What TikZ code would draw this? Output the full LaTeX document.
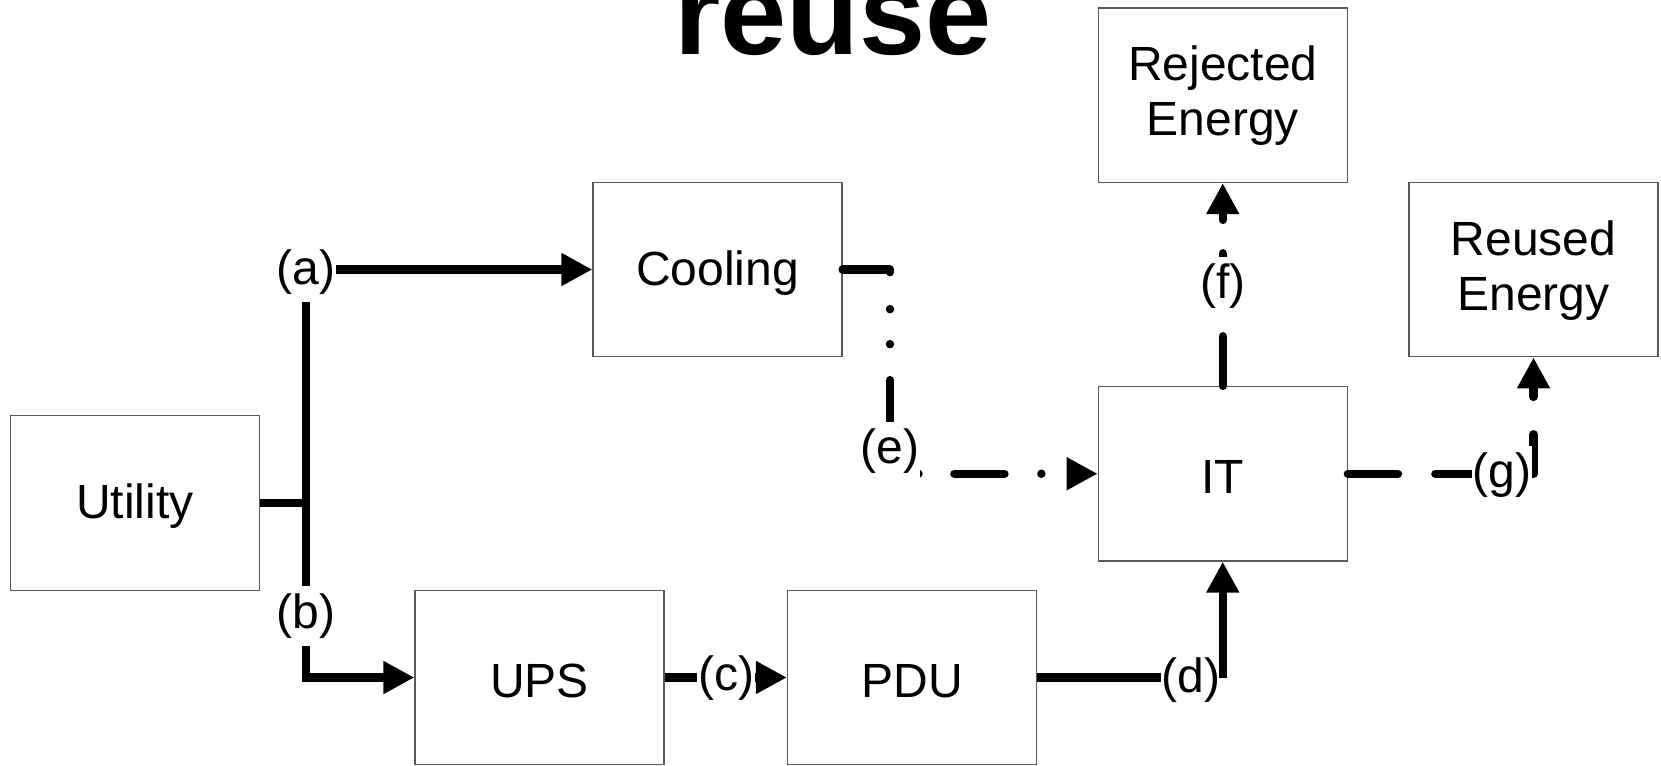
\documentclass[tikz,border=0pt]{standalone}
\usepackage{fontspec}
\setmainfont{Liberation Sans}
\usetikzlibrary{arrows.meta}
\newcommand\dn[1]{\raisebox{-3.5pt}[\height][\depth]{#1}}
\newcommand\twoline[2]{\raisebox{-2pt}[\height][\depth]{\setlength{\tabcolsep}{0pt}\renewcommand{\arraystretch}{1}\begin{tabular}{c}#1\\#2\end{tabular}}}
\tikzset{
  box/.style={draw=black!65, line width=1.3pt, minimum width=249pt, minimum height=174.5pt, inner sep=0pt, align=center, font=\fontsize{48}{55}\selectfont},
  lbl/.style={inner xsep=0.5pt, inner ysep=7pt, font=\fontsize{48}{55}\selectfont},
  lblw/.style={lbl, fill=white},
  conn/.style={line width=8.5pt},
  headarrow/.style={-{Triangle[length=31pt,width=31pt]}},
  ddot/.style={conn, line cap=round, line join=round, dash pattern=on 50pt off 37pt on 0pt off 35pt on 0pt off 36pt},
  dshf/.style={conn, line cap=round, line join=round, dash pattern=on 49.5pt off 33.5pt},
  dshg/.style={conn, line cap=round, line join=round, dash pattern=on 50pt off 37.5pt},
}
\begin{document}
\begin{tikzpicture}[x=1pt,y=-1pt]
\useasboundingbox (0,0) rectangle (1661,765);
\node[box] (util) at (135,503) {\dn{Utility}};
\node[box] (cool) at (717.5,269.5) {\dn{Cooling}};
\node[box] (ups) at (539.5,677.5) {\dn{UPS}};
\node[box] (pdu) at (912,677.5) {\dn{PDU}};
\node[box] (it) at (1222.75,473.75) {\dn{IT}};
\node[box] (rej) at (1222.75,95.25) {\twoline{Rejected}{Energy}};
\node[box] (reu) at (1533.5,269.5) {\twoline{Reused}{Energy}};
\node[anchor=base, font=\fontsize{119}{130}\selectfont\bfseries, inner sep=0pt] (title) at (833,55) {reuse};

\node[lbl] (a) at (306,272.5) {(a)};
\node[lbl] (b) at (306,616) {(b)};
\node[lbl] (c) at (726,678.5) {(c)};
\node[lbl] (d) at (1191,680) {(d)};
\coordinate (J) at (306,503);
\coordinate (dc) at (it.south |- pdu.east);
\coordinate (ec) at (890,473.75);

\draw[conn] (util.east) -- (J);
\draw[conn] (J) -- (a.south);
\draw[conn,headarrow] (a.east |- cool.west) -- (cool.west);
\draw[conn] (J) -- (b.north);
\draw[conn,headarrow] (b.south) |- (ups.west);
\draw[conn] (ups.east) -- (c.west |- ups.east);
\draw[conn,headarrow] (c.east |- pdu.west) -- (pdu.west);
\draw[conn] (pdu.east) -- (d.west |- pdu.east);
\draw[conn,headarrow] (dc) -- (it.south);
\draw[ddot,headarrow] (cool.east) -| (ec) -- (it.west);
\draw[dshf,headarrow] (it.north) -- (rej.south);
\draw[dshg,headarrow] (it.east) -| (reu.south);
\node[lblw] (e) at (890,451) {(e)};
\node[lblw] (f) at (1223,286) {(f)};
\node[lblw] (g) at (1502,475.5) {(g)};
\end{tikzpicture}
\end{document}
